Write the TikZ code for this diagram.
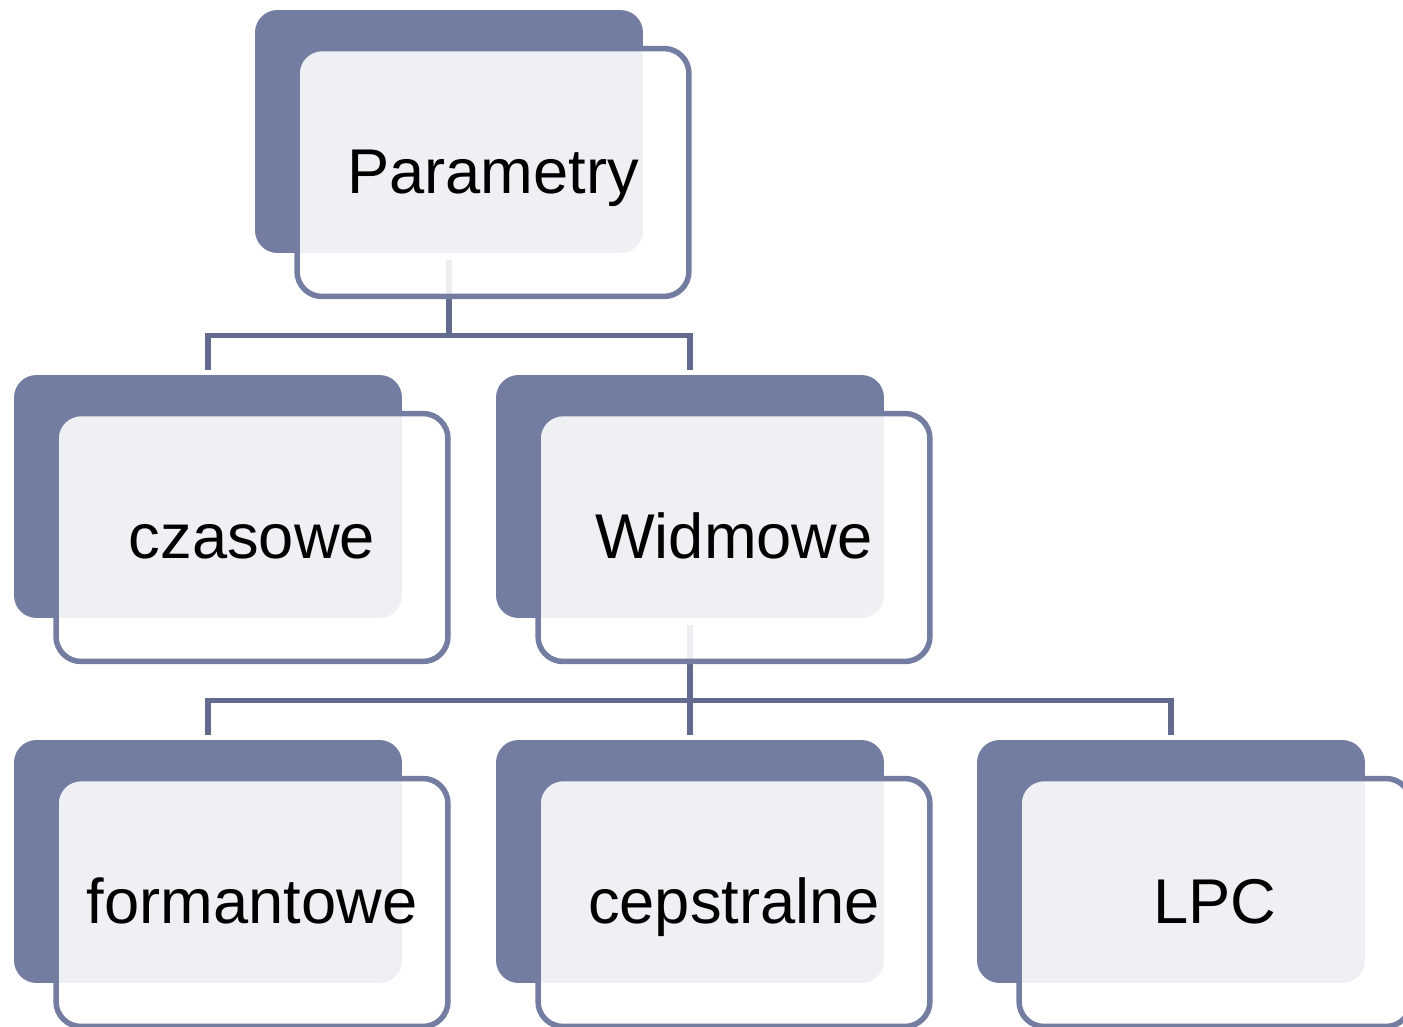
\documentclass[tikz,border=0pt]{standalone}
\usepackage{fontspec}
\setmainfont{Liberation Sans}
\definecolor{SlateBlue}{RGB}{115,124,161}
\definecolor{LinkBlue}{RGB}{98,106,142}

\begin{document}
\begin{tikzpicture}[x=0.02cm,y=-0.02cm,
  bk/.style={rectangle,fill=SlateBlue,rounded corners=0.45cm,minimum width=7.76cm,minimum height=4.86cm,inner sep=0pt},
  fr/.style={rectangle,draw=SlateBlue,line width=0.11cm,fill=white,fill opacity=0.89,text opacity=1,rounded corners=0.5cm,minimum width=7.84cm,minimum height=4.96cm,inner sep=0pt,text height=32pt,text depth=8.5pt,font=\fontsize{36}{43}\selectfont},
  link/.style={draw=LinkBlue,line width=0.11cm}
]
  \clip (0,0) rectangle (1403,1027);
  \node[bk] (parbk) at (449,131.5) {};
  \node[bk] (czbk) at (208,496.5) {};
  \node[bk] (widbk) at (690,496.5) {};
  \node[bk] (forbk) at (208,861.5) {};
  \node[bk] (cepbk) at (690,861.5) {};
  \node[bk] (lpcbk) at (1171,861.5) {};
  \draw[link] ([yshift=-0.14cm]parbk.south) -- ++(0,75) -| ([yshift=0.1cm]czbk.north);
  \draw[link] ([yshift=-0.14cm]parbk.south) -- ++(0,75) -| ([yshift=0.1cm]widbk.north);
  \draw[link] ([yshift=-0.14cm]widbk.south) -- ++(0,75) -| ([yshift=0.1cm]forbk.north);
  \draw[link] ([yshift=-0.14cm]widbk.south) -- ++(0,75) -| ([yshift=0.1cm]cepbk.north);
  \draw[link] ([yshift=-0.14cm]widbk.south) -- ++(0,75) -| ([yshift=0.1cm]lpcbk.north);
  \node[fr] (par) at ([xshift=0.88cm,yshift=-0.82cm]parbk.center) {Parametry};
  \node[fr] (cz) at ([xshift=0.88cm,yshift=-0.82cm]czbk.center) {czasowe};
  \node[fr] (wid) at ([xshift=0.88cm,yshift=-0.82cm]widbk.center) {Widmowe};
  \node[fr] (for) at ([xshift=0.88cm,yshift=-0.82cm]forbk.center) {formantowe};
  \node[fr] (cep) at ([xshift=0.88cm,yshift=-0.82cm]cepbk.center) {cepstralne};
  \node[fr] (lpc) at ([xshift=0.88cm,yshift=-0.82cm]lpcbk.center) {LPC};
\end{tikzpicture}
\end{document}
